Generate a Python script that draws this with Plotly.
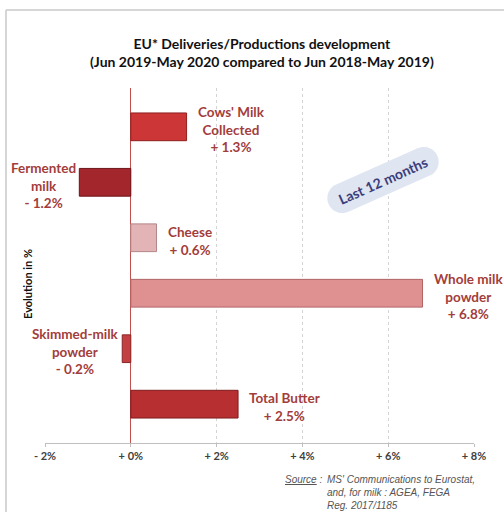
import numpy as np
import plotly.graph_objects as go

# ---- data ----
categories = ["Cows' Milk<br>Collected", "Fermented<br>milk", "Cheese",
              "Whole milk<br>powder", "Skimmed-milk<br>powder", "Total Butter"]
values = [1.3, -1.2, 0.6, 6.8, -0.2, 2.5]
bar_colors = ["#cd3636", "#a3262c", "#e2b4b5", "#df9192", "#c34042", "#b72f30"]
edge_colors = ["#8e1f1f", "#6e1419", "#b48586", "#b06465", "#8a2527", "#7e1b1c"]
tick_vals = [-2, 0, 2, 4, 6, 8]
tick_text = ["- 2%", "+ 0%", "+ 2%", "+ 4%", "+ 6%", "+ 8%"]

W, H = 504, 512
ML, MR, MT, MB = 45, 30, 88, 69
PW, PH = W - ML - MR, H - MT - MB


def px(xp):
    return (xp - ML) / PW


def py(yp):
    return (H - MB - yp) / PH


ypos = list(range(len(values)))

fig = go.Figure()
fig.add_trace(go.Bar(
    x=values, y=ypos, orientation="h", width=0.5,
    marker=dict(color=bar_colors, line=dict(color=edge_colors, width=1)),
    hoverinfo="skip", showlegend=False,
))

label_font = dict(family="Lato", size=13.5, color="#a23d3b", weight="bold")
anns = []
for i, (c, v) in enumerate(zip(categories, values)):
    sign = "+" if v >= 0 else "-"
    txt = f"{c}<br>{sign} {abs(v):.1f}%"
    anns.append(dict(
        x=v, y=i, xref="x", yref="y", text=txt, showarrow=False,
        xanchor="left" if v >= 0 else "right", align="center",
        xshift=9 if v >= 0 else -1, yshift=-3, font=label_font,
    ))

# title
anns.append(dict(
    x=px(262), y=py(53), xref="paper", yref="paper", showarrow=False,
    text="EU* Deliveries/Productions development<br>(Jun 2019-May 2020 compared to Jun 2018-May 2019)",
    font=dict(family="Lato", size=14, color="#111111", weight="bold"),
    xanchor="center", yanchor="middle", align="center",
))
# y axis title
anns.append(dict(
    x=px(27), y=py(284), xref="paper", yref="paper", showarrow=False,
    text="Evolution in %", textangle=-90,
    font=dict(family="Lato", size=11, color="#111111", weight="bold"),
    xanchor="center", yanchor="middle",
))
# source
src_font = dict(family="Liberation Sans", size=10, color="#555555", style="italic")
anns.append(dict(
    x=px(283), y=py(479), xref="paper", yref="paper", showarrow=False,
    text="<u>Source</u> :", font=src_font, xanchor="left", yanchor="middle",
))
anns.append(dict(
    x=px(325), y=py(472), xref="paper", yref="paper", showarrow=False,
    text="MS' Communications to Eurostat,<br>and, for milk : AGEA, FEGA<br>Reg. 2017/1185",
    font=src_font, xanchor="left", yanchor="top", align="left",
))

# badge "Last 12 months"
cx, cy, Lb, Hb, ang = 383, 180, 119, 30, np.deg2rad(24)
r = Hb / 2
a = Lb / 2 - r
d = np.array([np.cos(ang), -np.sin(ang)])
n = np.array([np.sin(ang), np.cos(ang)])
pts = []
for phi in np.linspace(-np.pi / 2, np.pi / 2, 20):
    u, v = a + r * np.cos(phi), r * np.sin(phi)
    pts.append(np.array([cx, cy]) + u * d + v * n)
for phi in np.linspace(np.pi / 2, 3 * np.pi / 2, 20):
    u, v = -a + r * np.cos(phi), r * np.sin(phi)
    pts.append(np.array([cx, cy]) + u * d + v * n)
path = "M " + " L ".join(f"{px(p[0]):.5f},{py(p[1]):.5f}" for p in pts) + " Z"

shapes = [
    dict(type="path", path=path, xref="paper", yref="paper",
         fillcolor="#dfe5f1", line=dict(width=0), layer="above"),
    dict(type="line", xref="paper", yref="paper", x0=px(6), x1=px(6),
         y0=py(10), y1=py(512), line=dict(color="#c8c8c8", width=1.5)),
    dict(type="line", xref="paper", yref="paper", x0=px(6), x1=px(504),
         y0=py(10), y1=py(10), line=dict(color="#c8c8c8", width=1.5)),
]
anns.append(dict(
    x=px(cx), y=py(cy), xref="paper", yref="paper", showarrow=False,
    text="Last 12 months", textangle=-24,
    font=dict(family="Lato", size=14, color="#3b3e7c", weight="bold"),
    xanchor="center", yanchor="middle",
))

fig.update_layout(
    width=W, height=H,
    margin=dict(l=ML, r=MR, t=MT, b=MB, pad=0),
    paper_bgcolor="white", plot_bgcolor="white",
    annotations=anns, shapes=shapes,
    xaxis=dict(
        range=[-2, 8], tickvals=tick_vals, ticktext=tick_text,
        showgrid=True, gridcolor="#d4d4d4", griddash="3px,3px", gridwidth=1,
        zeroline=True, zerolinecolor="#c0504d", zerolinewidth=1.2,
        showline=True, linecolor="#bfbfbf", linewidth=1,
        ticks="outside", ticklen=3, tickcolor="#bfbfbf",
        tickfont=dict(family="Lato", size=11, color="#404040", weight="bold"),
        fixedrange=True,
    ),
    yaxis=dict(
        range=[5.7, -0.7], showticklabels=False, showgrid=False,
        zeroline=False, showline=False, ticks="", fixedrange=True,
    ),
    bargap=0.5,
)

fig.write_html("out.html")
